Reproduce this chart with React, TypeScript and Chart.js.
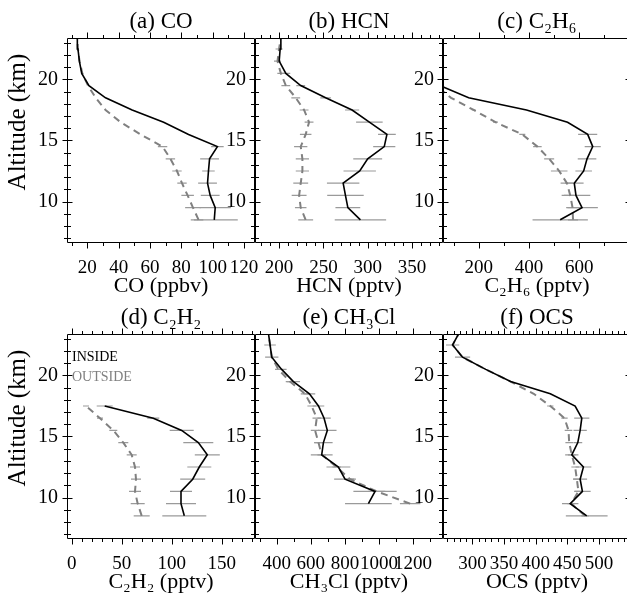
import React, { useEffect, useRef } from 'react';
import { Chart, registerables } from 'chart.js';

Chart.register(...registerables);

// ---------------- data ----------------
const ALT = [8.5, 9.5, 10.5, 11.5, 12.5, 13.5, 14.5, 15.5, 16.5, 17.5, 18.5, 19.5, 20.5, 21.5, 22.5, 23.5];
const ALT_TICKS = [10, 15, 20];
const ALT_RANGE = [6.6, 23.4];

const CO_IN = [101, 101.6, 98.4, 96.7, 97.3, 98, 103, 84.6, 68.7, 48.6, 31.6, 21, 16.4, 14.9, 14, 13.6];
const CO_IN_ERR = [15, 10, 6, 6, 4, 6, 4, 0, 0, 0, 0, 0, 0, 0, 0, 0];
const CO_OUT = [91, 87.4, 84, 80.4, 77.2, 73, 68, 53.9, 41.2, 31.6, 25.3, 20.4, 16.8, 15, 14, 13.6];
const CO_OUT_ERR = [3, 5, 4, 3, 3, 3, 3, 0, 0, 0, 0, 0, 0, 0, 0, 0];
const CO_TICKS = [20, 40, 60, 80, 100, 120];
const CO_RANGE = [7, 127];

const HCN_IN = [291.8, 277.6, 274.9, 272.3, 291, 300, 318.7, 321.7, 301.9, 282.4, 252.5, 224.4, 207.6, 200.1, 201.2, 202];
const HCN_IN_ERR = [29, 14, 20.6, 18.3, 18.3, 16.3, 12.5, 10, 15, 8, 6, 5, 5, 0, 0, 0];
const HCN_OUT = [230, 224.4, 222.6, 224.4, 226.3, 226.3, 224.4, 230, 233.8, 228.2, 218.8, 207.6, 202, 198.2, 200, 202];
const HCN_OUT_ERR = [8.4, 6.5, 8.4, 8.4, 7.5, 7.5, 7.5, 6.5, 5, 5, 5, 5, 4, 4, 4, 0];
const HCN_TICKS = [200, 250, 300, 350];
const HCN_RANGE = [172.8, 385];

const C2H6_IN = [524, 610.7, 586.7, 580, 617.3, 630.7, 653.3, 633.3, 553.3, 390, 160, 45, null, null, null, null];
const C2H6_IN_ERR = [110, 63, 57, 37, 33, 37, 32, 38, 0, 0, 0, 0, 0, 0, 0, 0];
const C2H6_OUT = [575, 573, 564, 550.7, 520, 480, 433.3, 373.3, 266.7, 180, 90, 30, null, null, null, null];
const C2H6_OUT_ERR = [20, 20, 25, 25, 33, 20, 17, 12, 10, 8, 0, 0, 0, 0, 0, 0];
const C2H6_TICKS = [200, 400, 600];
const C2H6_RANGE = [58, 805.5];

const C2H2_IN = [112.6, 109.3, 109.3, 121, 127.6, 135.6, 126.6, 110, 81.6, 33, null, null, null, null, null, null];
const C2H2_IN_ERR = [22, 15, 11, 12.5, 12, 12.5, 15, 12, 6, 8, 0, 0, 0, 0, 0, 0];
const C2H2_OUT = [70, 66, 63.3, 64.3, 63.3, 60, 51.6, 41.6, 28.3, 14.3, null, null, null, null, null, null];
const C2H2_OUT_ERR = [8, 7, 6, 5, 5, 5, 5, 4, 3, 3, 0, 0, 0, 0, 0, 0];
const C2H2_TICKS = [0, 50, 100, 150];
const C2H2_RANGE = [-4.7, 183.3];

const CH3CL_IN = [null, 938, 977, 801, 762, 664, 674, 697, 678, 645, 592, 498, 429, 371, 361, 351];
const CH3CL_IN_ERR = [0, 137, 127, 64, 70, 64, 54, 54, 39, 34, 34, 39, 29, 39, 34, 0];
const CH3CL_OUT = [null, 1183, 987, 830, 752, 664, 645, 625, 635, 605, 566, 478, 410, 371, 361, 351];
const CH3CL_OUT_ERR = [0, 60, 50, 25, 25, 25, 25, 25, 25, 25, 25, 25, 20, 0, 0, 0];
const CH3CL_TICKS = [400, 600, 800, 1000, 1200];
const CH3CL_RANGE = [272.6, 1375.8];

const OCS_IN = [480.6, 454.5, 473.8, 470.2, 475.4, 457, 466.5, 470.2, 472.8, 462.3, 423, 360.2, 321, 284.3, 268.6, 279];
const OCS_IN_ERR = [33, 13, 13, 11, 12.5, 10.5, 7, 10.5, 12, 0, 0, 0, 0, 12, 10.5, 0];
const OCS_OUT = [478, 456, 467.5, 465, 462.3, 457, 452.9, 451.8, 445.5, 423, 396.9, 360.2, 321, 284.3, 268.6, 279];
const OCS_OUT_ERR = [6, 6, 6, 6, 6, 6, 6, 6, 5, 5, 0, 0, 0, 0, 0, 0];
const OCS_TICKS = [300, 350, 400, 450, 500];
const OCS_RANGE = [253.4, 550.6];

const LEGEND_LABELS = ['INSIDE', 'OUTSIDE'];

type Vals = (number | null)[];
interface Panel {
  title: string;
  xLabel: string;
  inside: Vals;
  insideErr: number[];
  outside: Vals;
  outsideErr: number[];
  ticks: number[];
  range: number[];
  minor: number;
  major: number;
  legend?: boolean;
}

const PANELS: Panel[] = [
  { title: '(a) CO', xLabel: 'CO (ppbv)', inside: CO_IN, insideErr: CO_IN_ERR, outside: CO_OUT, outsideErr: CO_OUT_ERR, ticks: CO_TICKS, range: CO_RANGE, minor: 10, major: 20 },
  { title: '(b) HCN', xLabel: 'HCN (pptv)', inside: HCN_IN, insideErr: HCN_IN_ERR, outside: HCN_OUT, outsideErr: HCN_OUT_ERR, ticks: HCN_TICKS, range: HCN_RANGE, minor: 10, major: 50 },
  { title: '(c) C\u2082H\u2086', xLabel: 'C\u2082H\u2086 (pptv)', inside: C2H6_IN, insideErr: C2H6_IN_ERR, outside: C2H6_OUT, outsideErr: C2H6_OUT_ERR, ticks: C2H6_TICKS, range: C2H6_RANGE, minor: 100, major: 200 },
  { title: '(d) C\u2082H\u2082', xLabel: 'C\u2082H\u2082 (pptv)', inside: C2H2_IN, insideErr: C2H2_IN_ERR, outside: C2H2_OUT, outsideErr: C2H2_OUT_ERR, ticks: C2H2_TICKS, range: C2H2_RANGE, minor: 10, major: 50, legend: true },
  { title: '(e) CH\u2083Cl', xLabel: 'CH\u2083Cl (pptv)', inside: CH3CL_IN, insideErr: CH3CL_IN_ERR, outside: CH3CL_OUT, outsideErr: CH3CL_OUT_ERR, ticks: CH3CL_TICKS, range: CH3CL_RANGE, minor: 100, major: 200 },
  { title: '(f) OCS', xLabel: 'OCS (pptv)', inside: OCS_IN, insideErr: OCS_IN_ERR, outside: OCS_OUT, outsideErr: OCS_OUT_ERR, ticks: OCS_TICKS, range: OCS_RANGE, minor: 10, major: 50 },
];

// ---------------- layout ----------------
const FONT = '"Liberation Serif", "Times New Roman", serif';
const COL_LEFT = [67, 255, 443];
const ROW_TOP = [38, 334];
const BOX_W = 188;
const BOX_H = 205;
const PAD_L = 67;
const PAD_T = 38;
const PAD_R = 8;
const PAD_B = 62;
const IN_COLOR = '#000000';
const OUT_COLOR = '#808080';
const ERR_COLOR = '#9a9a9a';

function profile(vals: Vals) {
  return ALT.map((a, i) => (vals[i] == null ? { x: null, y: null } : { x: vals[i], y: a }));
}

function errBars(vals: Vals, errs: number[]) {
  const pts: { x: number | null; y: number | null }[] = [];
  ALT.forEach((a, i) => {
    const v = vals[i];
    const e = errs[i];
    if (v == null || !e) return;
    pts.push({ x: v - e, y: a }, { x: v + e, y: a }, { x: null, y: null });
  });
  return pts;
}

function makeDecor(p: Panel, col: number) {
  return {
    id: 'decor',
    afterDatasetsDraw(chart: any) {
      const { ctx, chartArea: ca, scales } = chart;
      const xs = scales.x;
      const ys = scales.y;
      ctx.save();
      ctx.strokeStyle = '#000';
      ctx.lineWidth = 1;
      const L = Math.round(ca.left) + 0.5;
      const R = Math.round(ca.right) - 0.5;
      const T = Math.round(ca.top) + 0.5;
      const B = Math.round(ca.bottom) - 0.5;
      ctx.beginPath();
      ctx.rect(L, T, R - L, B - T);
      ctx.stroke();
      ctx.beginPath();
      const k0 = Math.ceil(xs.min / p.minor);
      for (let k = k0; k * p.minor <= xs.max + 1e-9; k++) {
        const v = k * p.minor;
        const px = Math.round(xs.getPixelForValue(v)) + 0.5;
        const isMajor = Math.abs(v / p.major - Math.round(v / p.major)) < 1e-6;
        const len = isMajor ? 6 : 3.5;
        ctx.moveTo(px, B);
        ctx.lineTo(px, B + len);
        ctx.moveTo(px, T);
        ctx.lineTo(px, T - len);
      }
      for (let v = Math.ceil(ys.min); v <= ys.max; v++) {
        const py = Math.round(ys.getPixelForValue(v)) + 0.5;
        const len = v % 5 === 0 ? 5 : 3.5;
        ctx.moveTo(L - len, py);
        ctx.lineTo(L + len, py);
        ctx.moveTo(R - len, py);
        ctx.lineTo(R + len, py);
      }
      ctx.stroke();

      ctx.fillStyle = '#000';
      ctx.textAlign = 'center';
      ctx.textBaseline = 'middle';
      ctx.font = `23px ${FONT}`;
      ctx.fillText(p.title, (ca.left + ca.right) / 2, ca.top - 16);

      if (col === 0) {
        ctx.save();
        ctx.font = `25px ${FONT}`;
        ctx.translate(18, ca.top + 84);
        ctx.rotate(-Math.PI / 2);
        ctx.fillText('Altitude (km)', 0, 0);
        ctx.restore();
      }

      if (p.legend) {
        ctx.font = `14px ${FONT}`;
        ctx.textAlign = 'left';
        ctx.fillStyle = IN_COLOR;
        ctx.fillText(LEGEND_LABELS[0], ca.left + 5, ca.top + 23);
        ctx.fillStyle = OUT_COLOR;
        ctx.fillText(LEGEND_LABELS[1], ca.left + 5, ca.top + 43);
      }
      ctx.restore();
    },
  };
}

function buildConfig(p: Panel, col: number): any {
  return {
    type: 'scatter',
    data: {
      datasets: [
        { data: profile(p.inside), showLine: true, borderColor: IN_COLOR, borderWidth: 1.6, pointRadius: 0, order: 0 },
        { data: profile(p.outside), showLine: true, borderColor: OUT_COLOR, borderWidth: 2, borderDash: [7, 5], pointRadius: 0, order: 1 },
        { data: errBars(p.inside, p.insideErr), showLine: true, borderColor: ERR_COLOR, borderWidth: 1.2, pointRadius: 0, order: 2 },
        { data: errBars(p.outside, p.outsideErr), showLine: true, borderColor: ERR_COLOR, borderWidth: 1.2, pointRadius: 0, order: 3 },
      ],
    },
    options: {
      animation: false,
      responsive: false,
      events: [],
      layout: { padding: { left: 0, top: PAD_T, right: PAD_R, bottom: 0 }, autoPadding: false },
      plugins: { legend: { display: false }, tooltip: { enabled: false }, title: { display: false } },
      scales: {
        x: {
          type: 'linear',
          position: 'bottom',
          min: p.range[0],
          max: p.range[1],
          grid: { display: false, drawTicks: false },
          border: { display: false },
          afterBuildTicks: (s: any) => {
            s.ticks = p.ticks.map((v) => ({ value: v }));
          },
          afterFit: (s: any) => {
            s.height = PAD_B;
            s.paddingLeft = 0;
            s.paddingRight = 0;
          },
          ticks: {
            autoSkip: false,
            maxRotation: 0,
            padding: 14,
            color: '#000',
            font: { family: FONT, size: 19 },
            callback: (v: any) => String(v),
          },
          title: {
            display: true,
            text: p.xLabel,
            color: '#000',
            font: { family: FONT, size: 22 },
            padding: { top: 0, bottom: 6 },
          },
        },
        y: {
          type: 'linear',
          position: 'left',
          min: ALT_RANGE[0],
          max: ALT_RANGE[1],
          grid: { display: false, drawTicks: false },
          border: { display: false },
          afterBuildTicks: (s: any) => {
            s.ticks = ALT_TICKS.map((v) => ({ value: v }));
          },
          afterFit: (s: any) => {
            s.width = PAD_L;
            s.paddingTop = 0;
            s.paddingBottom = 0;
          },
          ticks: {
            autoSkip: false,
            padding: 9,
            color: '#000',
            font: { family: FONT, size: 20 },
            callback: (v: any) => String(v),
          },
        },
      },
    },
    plugins: [makeDecor(p, col)],
  };
}

export default function App() {
  const refs = useRef<(HTMLCanvasElement | null)[]>([]);

  useEffect(() => {
    const charts = PANELS.map((p, i) => {
      const canvas = refs.current[i]!;
      return new Chart(canvas, buildConfig(p, i % 3));
    });
    return () => charts.forEach((c) => c.destroy());
  }, []);

  const cw = PAD_L + BOX_W + PAD_R;
  const ch = PAD_T + BOX_H + PAD_B;

  return (
    <div style={{ position: 'absolute', left: 0, top: 0, width: 627, height: 594, overflow: 'hidden', background: '#fff' }}>
      {PANELS.map((p, i) => {
        const col = i % 3;
        const row = Math.floor(i / 3);
        return (
          <canvas
            key={p.title}
            ref={(el) => {
              refs.current[i] = el;
            }}
            width={cw}
            height={ch}
            style={{ position: 'absolute', left: COL_LEFT[col] - PAD_L, top: ROW_TOP[row] - PAD_T, width: cw, height: ch }}
          />
        );
      })}
    </div>
  );
}
